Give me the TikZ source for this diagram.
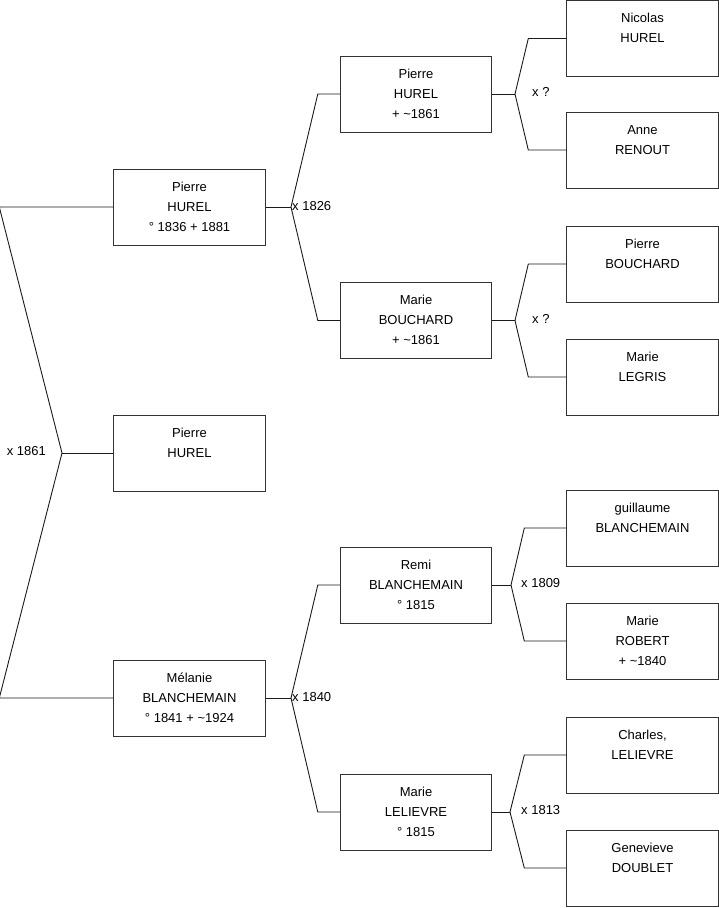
\documentclass[tikz,border=0pt]{standalone}
\usepackage{fontspec}
\setmainfont{Liberation Sans}
\usepackage{tikz}
\usetikzlibrary{positioning}
\definecolor{BoxLine} {HTML}{333333}
\definecolor{LinkLine}{HTML}{1A1A1A}
\newcommand{\ancestor}[3]{\strut#1\\\strut#2\\\strut#3}

\begin{document}
\begin{tikzpicture}[
  x=1pt, y=-1pt,
  font=\fontsize{13}{20}\selectfont,
  person/.style={draw=BoxLine, line width=0.9pt, minimum width=151.5pt,
                 minimum height=76pt, align=center, inner sep=0pt},
  link/.style={line width=0.9pt, draw=LinkLine},
  lbl/.style={inner sep=1pt}
]
  \useasboundingbox (0,0) rectangle (719,908);

  % the child and the parents
  \node[person] (pierre)  at (189.5,207) {\ancestor{Pierre}{HUREL}{° 1836 + 1881}};
  \node[person] (child)   at (189.5,453) {\ancestor{Pierre}{HUREL}{}};
  \node[person] (melanie) at (189.5,698) {\ancestor{Mélanie}{BLANCHEMAIN}{° 1841 + \textasciitilde1924}};

  % grandparents
  \node[person] (phurel)    at (416,94)    {\ancestor{Pierre}{HUREL}{+ \textasciitilde1861}};
  \node[person] (mbouchard) at (416,320.5) {\ancestor{Marie}{BOUCHARD}{+ \textasciitilde1861}};
  \node[person] (remi)      at (416,585)   {\ancestor{Remi}{BLANCHEMAIN}{° 1815}};
  \node[person] (mlelievre) at (416,812)   {\ancestor{Marie}{LELIEVRE}{° 1815}};

  % great-grandparents
  \node[person] (nicolas)   at (642.5,38.5) {\ancestor{Nicolas}{HUREL}{}};
  \node[person] (renout)    at (642.5,150)  {\ancestor{Anne}{RENOUT}{}};
  \node[person] (pbouchard) at (642.5,264)  {\ancestor{Pierre}{BOUCHARD}{}};
  \node[person] (legris)    at (642.5,377)  {\ancestor{Marie}{LEGRIS}{}};
  \node[person] (guillaume) at (642.5,528)  {\ancestor{guillaume}{BLANCHEMAIN}{}};
  \node[person] (robert)    at (642.5,641)  {\ancestor{Marie}{ROBERT}{+ \textasciitilde1840}};
  \node[person] (charles)   at (642.5,755)  {\ancestor{Charles,}{LELIEVRE}{}};
  \node[person] (doublet)   at (642.5,868)  {\ancestor{Genevieve}{DOUBLET}{}};

  % marriage points
  \coordinate (c1861) at (62,453);
  \coordinate (c1826) at (291,207);
  \coordinate (c1840) at (291,698);
  \coordinate (cq1)   at (515,94);
  \coordinate (cq2)   at (515,320.5);
  \coordinate (c1809) at (511,585);
  \coordinate (c1813) at (510,812);

  % parents of the child
  \draw[link] (pierre.west) -- ([xshift=-114pt]pierre.west) -- (c1861)
              -- ([xshift=-114pt]melanie.west) -- (melanie.west);
  \draw[link] (c1861) -- (child.west);
  \node[lbl, anchor=east] at ([xshift=-15pt,yshift=2pt]c1861) {x 1861};

  % parents of Pierre and of Melanie
  \draw[link] (pierre.east) -- (c1826);
  \draw[link] (phurel.west) -- ([xshift=-22pt]phurel.west) -- (c1826)
              -- ([xshift=-22pt]mbouchard.west) -- (mbouchard.west);
  \node[lbl, anchor=west] at ([yshift=1pt]c1826) {x 1826};

  \draw[link] (melanie.east) -- (c1840);
  \draw[link] (remi.west) -- ([xshift=-22pt]remi.west) -- (c1840)
              -- ([xshift=-22pt]mlelievre.west) -- (mlelievre.west);
  \node[lbl, anchor=west] at ([yshift=1pt]c1840) {x 1840};

  % one generation further
  \draw[link] (phurel.east) -- (cq1);
  \draw[link] (nicolas.west) -- ([xshift=-38pt]nicolas.west) -- (cq1)
              -- ([xshift=-38pt]renout.west) -- (renout.west);
  \node[lbl, anchor=west] at ([xshift=16pt,yshift=2pt]cq1) {x ?};

  \draw[link] (mbouchard.east) -- (cq2);
  \draw[link] (pbouchard.west) -- ([xshift=-38pt]pbouchard.west) -- (cq2)
              -- ([xshift=-38pt]legris.west) -- (legris.west);
  \node[lbl, anchor=west] at ([xshift=16pt,yshift=2pt]cq2) {x ?};

  \draw[link] (remi.east) -- (c1809);
  \draw[link] (guillaume.west) -- ([xshift=-42pt]guillaume.west) -- (c1809)
              -- ([xshift=-42pt]robert.west) -- (robert.west);
  \node[lbl, anchor=west] at ([xshift=9pt,yshift=2pt]c1809) {x 1809};

  \draw[link] (mlelievre.east) -- (c1813);
  \draw[link] (charles.west) -- ([xshift=-42pt]charles.west) -- (c1813)
              -- ([xshift=-42pt]doublet.west) -- (doublet.west);
  \node[lbl, anchor=west] at ([xshift=10pt,yshift=2pt]c1813) {x 1813};
\end{tikzpicture}
\end{document}
